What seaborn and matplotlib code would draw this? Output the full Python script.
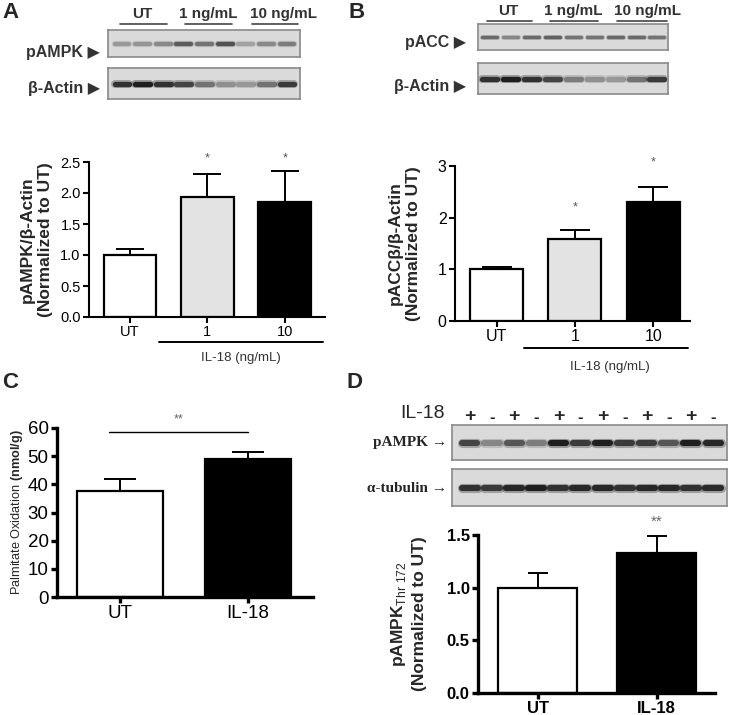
import matplotlib
matplotlib.use('Agg')
import matplotlib.pyplot as plt
import seaborn as sns
import numpy as np

# data
a_groups = ['UT', '1', '10']
a_mean = [1.0, 1.93, 1.85]
a_err = [0.10, 0.38, 0.50]
a_pampk = [0.30, 0.32, 0.38, 0.62, 0.50, 0.68, 0.25, 0.38, 0.45]
a_actin = [0.85, 0.95, 0.85, 0.75, 0.50, 0.35, 0.30, 0.50, 0.80]

b_groups = ['UT', '1', '10']
b_mean = [1.0, 1.58, 2.31]
b_err = [0.05, 0.18, 0.29]
b_pacc = [0.55, 0.40, 0.55, 0.60, 0.50, 0.50, 0.55, 0.55, 0.50]
b_actin = [0.85, 0.95, 0.85, 0.75, 0.45, 0.35, 0.30, 0.50, 0.80]

c_groups = ['UT', 'IL-18']
c_mean = [37.5, 49.0]
c_err = [4.5, 2.5]

d_groups = ['UT', 'IL-18']
d_mean = [1.0, 1.33]
d_err = [0.14, 0.16]
d_signs = ['+', '-', '+', '-', '+', '-', '+', '-', '+', '-', '+', '-']
d_pampk = [0.75, 0.40, 0.65, 0.45, 0.95, 0.80, 0.95, 0.80, 0.80, 0.65, 0.95, 0.90]
d_tubulin = [0.85, 0.80, 0.90, 0.95, 0.85, 0.90, 0.90, 0.85, 0.90, 0.90, 0.85, 0.88]

bar_colors3 = ['white', '#e3e3e3', 'black']
bar_colors2 = ['white', 'black']

sns.set_style('ticks')
plt.rcParams['font.family'] = ['Liberation Sans', 'DejaVu Sans']
plt.rcParams['mathtext.fontset'] = 'custom'
plt.rcParams['mathtext.rm'] = 'Liberation Sans'
plt.rcParams['mathtext.bf'] = 'Liberation Sans:bold'

W, H = 730, 715
fig = plt.figure(figsize=(W / 100, H / 100), dpi=100)


def fx(x):
    return x / W


def fy(y):
    return 1 - y / H


def box(x0, y0, x1, y1):
    return [fx(x0), fy(y1), fx(x1) - fx(x0), fy(y0) - fy(y1)]


def hline(x0, x1, y, lw=1.3, color='black'):
    fig.add_artist(plt.Line2D([fx(x0), fx(x1)], [fy(y), fy(y)],
                              transform=fig.transFigure, color=color, lw=lw))


def blot(rect, vals, xlim, band_w=0.36, lw=3.5):
    ax = fig.add_axes(rect)
    ax.set_facecolor('#dadada')
    for s in ax.spines.values():
        s.set_color('#8a8a8a')
        s.set_linewidth(1.2)
    for i, v in enumerate(vals):
        g = 0.82 - 0.74 * v
        # soft halo + core to mimic a blurred band
        ax.plot([i - band_w, i + band_w], [0, 0], color=(g, g, g), lw=lw * 1.5,
                solid_capstyle='round', alpha=0.35)
        ax.plot([i - band_w, i + band_w], [0, 0], color=(g, g, g), lw=lw,
                solid_capstyle='round')
    ax.set_xlim(*xlim)
    ax.set_ylim(-1, 1)
    ax.set_xticks([])
    ax.set_yticks([])
    return ax


def bars(rect, groups, mean, err, colors, xlim, ylim, yticks, width, spine_w,
         capsize, tick_fs, bold_ticks=False):
    ax = fig.add_axes(rect)
    sns.barplot(x=groups, y=mean, hue=groups, palette=colors, legend=False,
                edgecolor='black', linewidth=1.6, width=width, ax=ax,
                zorder=2)
    ax.errorbar(range(len(groups)), mean, yerr=[np.zeros(len(err)), err],
                fmt='none', ecolor='black', elinewidth=1.4, capsize=capsize,
                capthick=1.4, zorder=1)
    ax.set_xlim(*xlim)
    ax.set_ylim(*ylim)
    ax.set_yticks(yticks)
    sns.despine(ax=ax)
    for s in ['left', 'bottom']:
        ax.spines[s].set_linewidth(spine_w)
        ax.spines[s].set_color('black')
    ax.tick_params(width=spine_w, length=4, labelsize=tick_fs, pad=2,
                   colors='black')
    if bold_ticks:
        for t in ax.get_xticklabels() + ax.get_yticklabels():
            t.set_fontweight('bold')
    ax.set_xlabel('')
    return ax


# ---------- panel A ----------
fig.text(fx(2), fy(12), 'A', fontsize=16, fontweight='bold', va='center')
for txt, xc in [('UT', 142), ('1 ng/mL', 208), ('10 ng/mL', 283)]:
    fig.text(fx(xc), fy(14), txt, fontsize=11, fontweight='bold', color='#333333',
             ha='center', va='center')
for x0, x1 in [(120, 167), (185, 232), (252, 298)]:
    hline(x0, x1, 24, lw=1.2, color='#444444')
blot(box(108, 30, 300, 57), a_pampk, (-0.68, 8.63), lw=3.0)
blot(box(108, 68, 300, 99), a_actin, (-0.68, 8.63), lw=3.8)
fig.text(fx(100), fy(52), 'pAMPK ▶', fontsize=11.5, fontweight='bold',
         color='#333333', ha='right', va='center')
fig.text(fx(100), fy(88), 'β-Actin ▶', fontsize=11.5, fontweight='bold',
         color='#333333', ha='right', va='center')

axA = bars(box(89, 162, 325, 317), a_groups, a_mean, a_err, bar_colors3,
           (-0.53, 2.52), (0, 2.5), [0, 0.5, 1.0, 1.5, 2.0, 2.5], 0.68, 1.5,
           10, 10.5)
axA.set_yticklabels(['0.0', '0.5', '1.0', '1.5', '2.0', '2.5'])
axA.set_ylabel('pAMPK/β-Actin\n(Normalized to UT)', fontsize=12.5,
               fontweight='bold', labelpad=5, linespacing=1.3)
for i in [1, 2]:
    axA.text(i, 2.55, '*', ha='center', va='center', fontsize=9,
             color='#555555', clip_on=False)
hline(159, 323, 342, lw=1.4)
fig.text(fx(241), fy(358), 'IL-18 (ng/mL)', fontsize=9.5, color='#333333',
         ha='center', va='center')

# ---------- panel B ----------
fig.text(fx(348), fy(12), 'B', fontsize=16, fontweight='bold', va='center')
for txt, xc in [('UT', 508), ('1 ng/mL', 573), ('10 ng/mL', 648)]:
    fig.text(fx(xc), fy(11), txt, fontsize=11, fontweight='bold', color='#333333',
             ha='center', va='center')
for x0, x1 in [(487, 532), (550, 598), (617, 667)]:
    hline(x0, x1, 21, lw=1.2, color='#444444')
blot(box(478, 24, 668, 50), b_pacc, (-0.57, 8.53), lw=2.4)
blot(box(478, 63, 668, 94), b_actin, (-0.57, 8.53), lw=3.8)
fig.text(fx(466), fy(42), 'pACC ▶', fontsize=11.5, fontweight='bold',
         color='#333333', ha='right', va='center')
fig.text(fx(466), fy(86), 'β-Actin ▶', fontsize=11.5, fontweight='bold',
         color='#333333', ha='right', va='center')

axB = bars(box(455, 166, 690, 321), b_groups, b_mean, b_err, bar_colors3,
           (-0.53, 2.47), (0, 3), [0, 1, 2, 3], 0.68, 1.5, 11, 11.5)
axB.set_ylabel('pACCβ/β-Actin\n(Normalized to UT)', fontsize=12.5,
               fontweight='bold', labelpad=12, linespacing=1.3)
axB.text(1, 2.2, '*', ha='center', va='center', fontsize=9, color='#555555')
axB.text(2, 3.07, '*', ha='center', va='center', fontsize=9, color='#555555',
         clip_on=False)
hline(524, 688, 348, lw=1.4)
fig.text(fx(610), fy(367), 'IL-18 (ng/mL)', fontsize=9.5, color='#333333',
         ha='center', va='center')

# ---------- panel C ----------
fig.text(fx(2), fy(383), 'C', fontsize=16, fontweight='bold', va='center')
axC = bars(box(57, 428, 313, 597), c_groups, c_mean, c_err, bar_colors2,
           (-0.49, 1.51), (0, 60), [0, 10, 20, 30, 40, 50, 60], 0.675, 2.4,
           11.5, 13.5)
axC.set_ylabel(r'Palmitate Oxidation $\mathbf{(nmol/g)}$', fontsize=9.2,
               labelpad=2)
axC.plot([-0.08, 1.0], [58.5, 58.5], color='black', lw=1.0, clip_on=False)
axC.text(0.46, 63, '**', ha='center', va='center', fontsize=9,
         color='#666666', clip_on=False)

# ---------- panel D ----------
fig.text(fx(347), fy(383), 'D', fontsize=16, fontweight='bold', va='center')
fig.text(fx(445), fy(414), 'IL-18', fontsize=14, ha='right', va='center')
axDb = blot(box(452, 425, 727, 460), d_pampk, (-0.81, 11.63), band_w=0.34,
            lw=4.4)
for i, s in enumerate(d_signs):
    axDb.text(i, 1.0, '+' if s == '+' else '-', ha='center',
              va='bottom', fontsize=14 if s == '+' else 12, fontweight='bold',
              clip_on=False)
blot(box(452, 469, 727, 506), d_tubulin, (-0.81, 11.63), band_w=0.36, lw=4.4)
fig.text(fx(447), fy(443), 'pAMPK →', fontsize=11, fontweight='bold',
         family=['Liberation Serif', 'DejaVu Serif'], ha='right', va='center')
fig.text(fx(447), fy(488), 'α-tubulin →', fontsize=11, fontweight='bold',
         family=['Liberation Serif', 'DejaVu Serif'], ha='right', va='center')

axD = bars(box(478, 535, 715, 693), d_groups, d_mean, d_err, bar_colors2,
           (-0.5, 1.49), (0, 1.5), [0, 0.5, 1.0, 1.5], 0.66, 2.4, 7.5, 12,
           bold_ticks=True)
axD.set_yticklabels(['0.0', '0.5', '1.0', '1.5'], fontweight='bold')
axD.set_ylabel(r'$\mathbf{pAMPK}_{\mathrm{Thr\ 172}}$' + '\n(Normalized to UT)',
               fontsize=12.5, fontweight='bold', labelpad=14, linespacing=1.3)
axD.text(1, 1.63, '**', ha='center', va='center', fontsize=11,
         color='#666666', clip_on=False)

fig.savefig('out.png', dpi=100)
